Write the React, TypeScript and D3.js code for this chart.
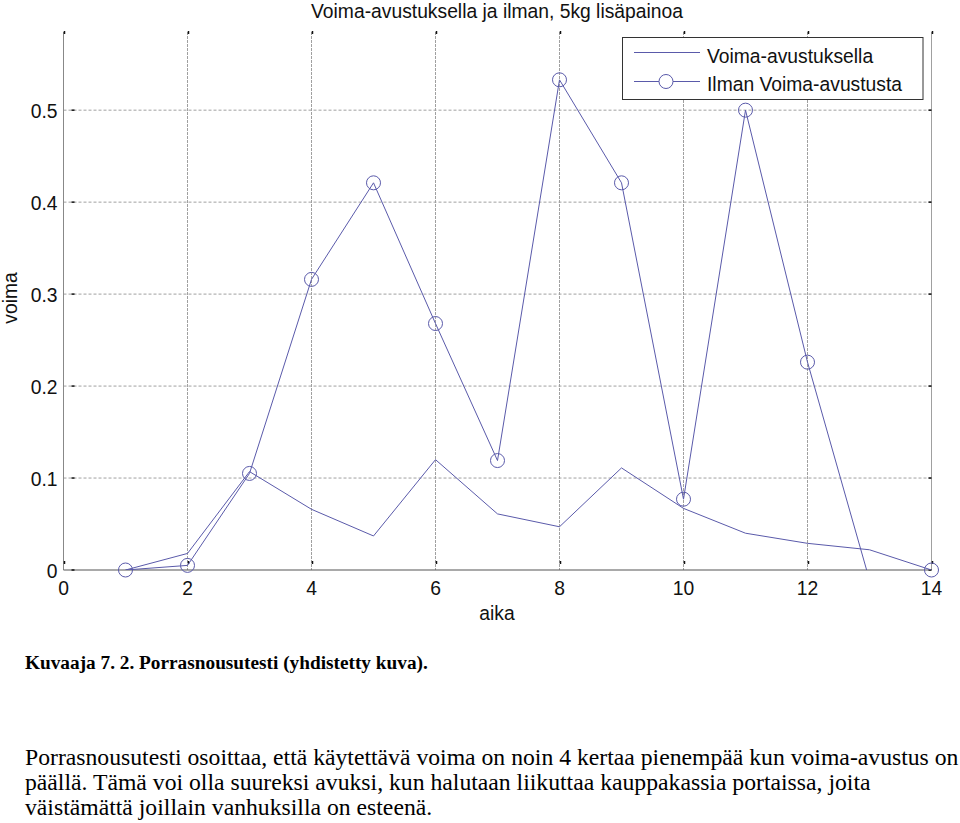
import React from "react";
import * as d3 from "d3";

const aika = [1, 2, 3, 4, 5, 6, 7, 8, 9, 10, 11, 12, 13, 14];
const voimaAvustuksella = [0, 0.018, 0.107, 0.066, 0.037, 0.12, 0.061, 0.047, 0.111, 0.067, 0.04, 0.029, 0.022, 0];
const ilmanAvustusta = [0, 0.005, 0.105, 0.316, 0.421, 0.268, 0.119, 0.533, 0.421, 0.077, 0.5, 0.226, -0.011, 0];
const xTicks = [0, 2, 4, 6, 8, 10, 12, 14];
const yTicks = [0, 0.1, 0.2, 0.3, 0.4, 0.5];
const seriesNames = ["Voima-avustuksella", "Ilman Voima-avustusta"];
const title = "Voima-avustuksella ja ilman, 5kg lisäpainoa";
const xLabel = "aika";
const yLabel = "voima";
const caption = "Kuvaaja 7. 2. Porrasnousutesti (yhdistetty kuva).";
const paragraph = [
  "Porrasnousutesti osoittaa, että käytettävä voima on noin 4 kertaa pienempää kun voima-avustus on",
  "päällä. Tämä voi olla suureksi avuksi, kun halutaan liikuttaa kauppakassia portaissa, joita",
  "väistämättä joillain vanhuksilla on esteenä.",
];

const W = 960;
const H = 823;
const L = 63.5, R = 931.5, T = 32, B = 570;
const LINE = "#5a5aaa";
const SANS = "'Liberation Sans', Arial, Helvetica, sans-serif";
const SERIF = "'Liberation Serif', 'Times New Roman', serif";
const FS = 19.3;

export default function App() {
  const x = d3.scaleLinear().domain([0, 14]).range([L, R]);
  const y = d3.scaleLinear().domain([0, 0.585]).range([B, T]);
  const line = d3
    .line<number>()
    .x((_, i) => x(aika[i]))
    .y((d) => y(d));
  const [ymin, ymax] = y.domain();

  return (
    <svg
      width={W}
      height={H}
      style={{ position: "absolute", left: 0, top: 0, background: "#fff" }}
      fontFamily={SANS}
    >
      <defs>
        <clipPath id="plotclip">
          <rect x={L} y={T} width={R - L} height={B - T} />
        </clipPath>
      </defs>
      <rect x={0} y={0} width={W} height={H} fill="#fff" />

      {/* grid */}
      {xTicks.slice(1).map((t) => (
        <line key={"gx" + t} x1={x(t)} x2={x(t)} y1={T} y2={B} stroke="#a0a0a0" strokeWidth={1} strokeDasharray={t === 14 ? undefined : "3,1"} />
      ))}
      {yTicks.slice(1).map((t) => (
        <line key={"gy" + t} x1={L} x2={R} y1={y(t)} y2={y(t)} stroke="#a0a0a0" strokeWidth={1} strokeDasharray="3,2" />
      ))}

      {/* axes */}
      <line x1={L} x2={L} y1={T} y2={B} stroke="#888" strokeWidth={1} />
      <line x1={L} x2={R} y1={B} y2={B} stroke="#555" strokeWidth={1.2} />

      {/* ticks */}
      {xTicks.map((t) => (
        <g key={"xt" + t}>
          <line x1={x(t) + 1} x2={x(t) + 1} y1={B - 9} y2={B - 6} stroke="#111" strokeWidth={1.5} />
          <line x1={x(t) + 1} x2={x(t) + 1} y1={T - 1} y2={T + 2} stroke="#111" strokeWidth={1.5} />
          <text x={x(t)} y={B + 25} textAnchor="middle" fontSize={FS} fill="#111">
            {t}
          </text>
        </g>
      ))}
      {yTicks.map((t) => (
        <g key={"yt" + t}>
          <line x1={L + 8} x2={L + 11} y1={y(t)} y2={y(t)} stroke="#111" strokeWidth={1.5} />
          <line x1={R - 3} x2={R} y1={y(t)} y2={y(t)} stroke="#111" strokeWidth={1.5} />
          <text x={57.5} y={y(t) + 8} textAnchor="end" fontSize={FS} fill="#111">
            {t === 0 ? "0" : d3.format(".1f")(t)}
          </text>
        </g>
      ))}

      {/* series */}
      <g clipPath="url(#plotclip)">
        <path d={line(voimaAvustuksella) || ""} fill="none" stroke={LINE} strokeWidth={1} />
        <path d={line(ilmanAvustusta) || ""} fill="none" stroke={LINE} strokeWidth={1} />
      </g>
      {ilmanAvustusta.map((v, i) =>
        v >= ymin && v <= ymax ? (
          <circle key={"c" + i} cx={x(aika[i])} cy={y(v)} r={7} fill="none" stroke={LINE} strokeWidth={1} />
        ) : null
      )}

      {/* labels */}
      <text x={497} y={18} textAnchor="middle" fontSize={FS} fill="#111">
        {title}
      </text>
      <text x={497} y={620} textAnchor="middle" fontSize={FS} fill="#111">
        {xLabel}
      </text>
      <text transform="translate(17,298) rotate(-90)" textAnchor="middle" fontSize={FS} fill="#111">
        {yLabel}
      </text>

      {/* legend */}
      <g>
        <rect x={622.5} y={37.5} width={300.5} height={62} fill="#fff" stroke="#333" strokeWidth={1} />
        <line x1={634} x2={700} y1={52.5} y2={52.5} stroke={LINE} strokeWidth={1} />
        <text x={707} y={62.5} fontSize={FS} fill="#111">
          {seriesNames[0]}
        </text>
        <line x1={634} x2={700} y1={81.5} y2={81.5} stroke={LINE} strokeWidth={1} />
        <circle cx={666} cy={81.5} r={7} fill="#fff" stroke={LINE} strokeWidth={1} />
        <text x={707} y={91} fontSize={FS} fill="#111">
          {seriesNames[1]}
        </text>
      </g>

      {/* caption and body text */}
      <text x={25} y={669} fontFamily={SERIF} fontWeight="bold" fontSize={19.3} fill="#000">
        {caption}
      </text>
      {paragraph.map((p, i) => (
        <text key={"p" + i} x={25} y={765 + i * 24.8} fontFamily={SERIF} fontSize={23.7} fill="#000">
          {p}
        </text>
      ))}
    </svg>
  );
}
